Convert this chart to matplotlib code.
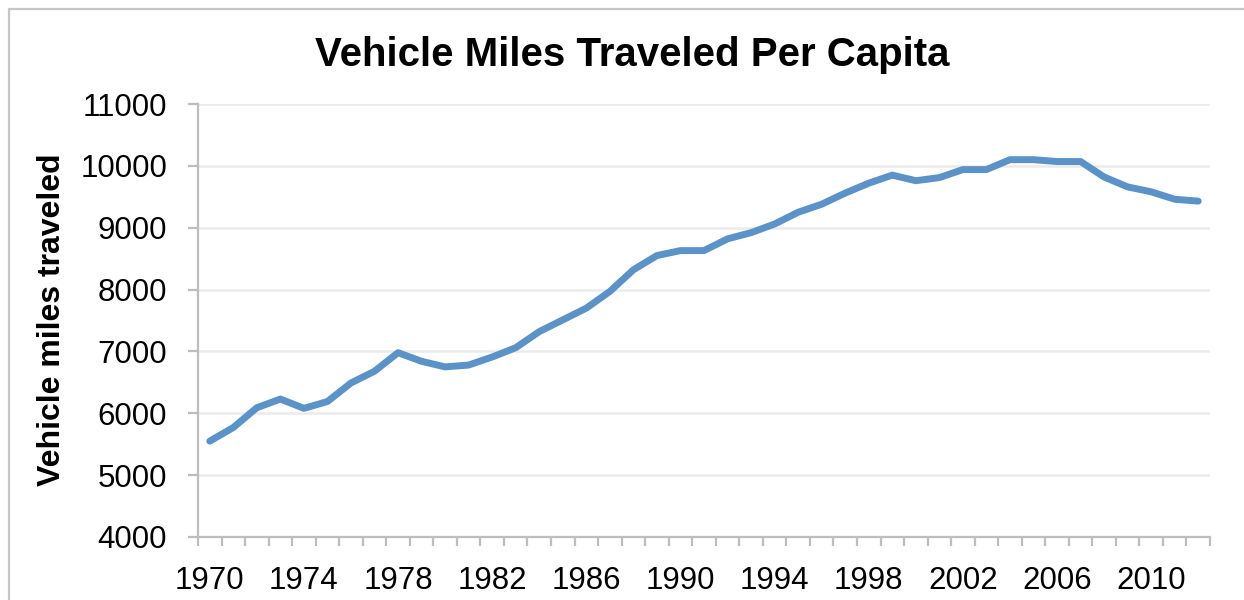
import matplotlib
matplotlib.use('Agg')
import matplotlib.pyplot as plt
from matplotlib.patches import Rectangle
import numpy as np

plt.rcParams['font.family'] = ['Liberation Sans', 'DejaVu Sans']

# vehicle miles traveled per capita
years = list(range(1970, 2013))
vmt = [5550, 5770, 6090, 6230, 6080, 6190, 6490, 6680, 6980, 6840,
       6750, 6780, 6910, 7060, 7320, 7510, 7700, 7970, 8320, 8550,
       8630, 8630, 8820, 8920, 9060, 9250, 9380, 9560, 9720, 9850,
       9760, 9810, 9940, 9940, 10100, 10100, 10070, 10070, 9820, 9660,
       9580, 9460, 9430]
year_labels = [str(y) for y in years[::4]]

W, H = 1244, 600
fig = plt.figure(figsize=(W/100, H/100), dpi=100)
ax = fig.add_axes([198/W, 1 - 537/H, (1210 - 198)/W, (537 - 104)/H])

# light frame round the chart (runs off the right and bottom edge)
fig.patches.append(Rectangle((9/W, -0.1), 1.2, 1 - 9/H + 0.1,
                             transform=fig.transFigure, fill=False,
                             edgecolor='#c6c6c6', linewidth=1.6))

x = np.arange(len(years))
ax.plot(x, vmt, color='#5b93c8', linewidth=5.0, solid_joinstyle='round',
        solid_capstyle='round', zorder=3)

ax.set_ylim(4000, 11000)
ax.set_yticks(range(4000, 11001, 1000))
ax.set_xlim(-0.5, len(years) - 0.5)
ax.set_xticks(x[::4])
ax.set_xticklabels(year_labels)
ax.set_xticks(np.arange(-0.5, len(years), 1), minor=True)

ax.grid(axis='y', color='#ebebeb', linewidth=1.8, zorder=0)
for s in ['top', 'right']:
    ax.spines[s].set_visible(False)
for s in ['left', 'bottom']:
    ax.spines[s].set_color('#bdbdbd')
    ax.spines[s].set_linewidth(1.6)

ax.tick_params(axis='y', length=7.2, width=1.6, color='#bdbdbd',
               labelsize=22.5, pad=15)
ax.tick_params(axis='x', which='major', length=0, labelsize=22.5, pad=21)
ax.tick_params(axis='x', which='minor', length=6.5, width=1.6, color='#bdbdbd')

fig.text(52/W, 1 - 320/H, 'Vehicle miles traveled', fontsize=23,
         fontweight='bold', rotation=90, ha='center', va='center')
fig.text(632/W, 1 - 66/H, 'Vehicle Miles Traveled Per Capita',
         fontsize=29, fontweight='bold', ha='center', va='baseline')

fig.savefig('out.png', dpi=100, facecolor='white')
